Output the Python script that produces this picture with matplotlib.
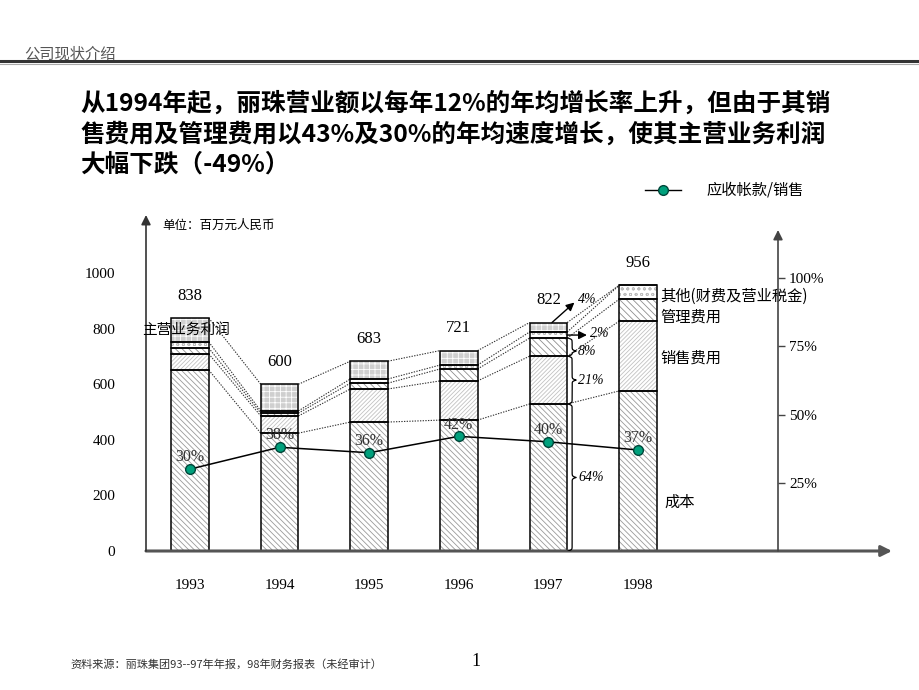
import numpy as np
import matplotlib
matplotlib.use('Agg')
import matplotlib.pyplot as plt
from matplotlib.lines import Line2D

plt.rcParams['font.family'] = ['Noto Sans CJK SC', 'DejaVu Sans']
plt.rcParams['hatch.linewidth'] = 0.6

# data (百万元人民币)
years = ['1993', '1994', '1995', '1996', '1997', '1998']
totals = [838, 600, 683, 721, 822, 956]
cost = [651, 424, 464, 471, 529, 576]
sales = [58, 62, 119, 141, 172, 251]
mgmt = [21, 10, 21, 43, 65, 79]
other = [22, 8, 15, 14, 22, 50]
profit = [86, 96, 64, 52, 34, 0]
ar_ratio = [30, 38, 36, 42, 40, 37]   # 应收帐款/销售 %
shares_1997 = ['64%', '21%', '8%', '2%', '4%']
right_ticks = [25, 50, 75, 100]
left_ticks = [0, 200, 400, 600, 800, 1000]

W, H = 920, 690
SERIF = 'Liberation Serif'


def fx(x):
    return x / W


def fy(y):
    return 1 - y / H


fig = plt.figure(figsize=(9.2, 6.9), dpi=100)

# header
fig.text(fx(24), fy(54), '公司现状介绍', fontsize=11, color='#555555', va='center', style='italic')
fig.add_artist(Line2D([0, 1], [fy(61), fy(61)], color='#333333', lw=2.2))
fig.add_artist(Line2D([0, 1], [fy(64), fy(64)], color='#aaaaaa', lw=0.8))

title = ['从1994年起，丽珠营业额以每年12%的年均增长率上升，但由于其销',
         '售费用及管理费用以43%及30%的年均速度增长，使其主营业务利润',
         '大幅下跌（-49%）']
for k, line in enumerate(title):
    fig.text(fx(80), fy(103 + 31 * k), line, fontsize=17.7, fontweight='bold',
             va='center', ha='left', color='black')

# main axes
ax = fig.add_axes([fx(146), 1 - 551 / H, (892 - 146) / W, (551 - 215) / H])
ax.set_xlim(-0.491, 7.835)
ax.set_ylim(0, 1209)
ax.patch.set_alpha(0)
for s in ax.spines.values():
    s.set_visible(False)

x = np.arange(len(years))
bw = 0.42
layers = [
    (cost, '#9a9a9a', '\\\\\\\\\\\\', 'white'),
    (sales, '#c2c2c2', '////////', 'white'),
    (mgmt, '#8e8e8e', '\\\\\\\\\\', 'white'),
    (other, '#bdbdbd', 'ooo', 'white'),
    (profit, 'white', '+++', '#cfcfcf'),
]
bottom = np.zeros(len(years))
levels = []
for vals, hcol, hatch, face in layers:
    vals = np.array(vals, dtype=float)
    ax.bar(x, vals, bottom=bottom, width=bw, color=face, edgecolor=hcol,
           hatch=hatch, lw=0, zorder=2)
    ax.bar(x, vals, bottom=bottom, width=bw, fill=False, edgecolor='black',
           lw=1.1, zorder=3)
    bottom = bottom + vals
    levels.append(bottom.copy())

# dotted connectors between neighbouring bars
for lev in levels:
    for i in range(len(years) - 1):
        ax.plot([x[i] + bw / 2, x[i + 1] - bw / 2], [lev[i], lev[i + 1]],
                ls=(0, (1.2, 1.2)), color='#333333', lw=0.8, zorder=1)

for i, t in enumerate(totals):
    ax.annotate(str(t), (x[i], t), xytext=(0, 16), textcoords='offset points',
                ha='center', va='center', fontsize=12, family=SERIF)

# axes lines with arrows
ax.annotate('', xy=(1, 0), xytext=(0, 0), xycoords='axes fraction',
            arrowprops=dict(arrowstyle='-|>', color='#555555', lw=2.2,
                            mutation_scale=16, shrinkA=0, shrinkB=0))
ax.annotate('', xy=(0, 1), xytext=(0, 0), xycoords='axes fraction',
            arrowprops=dict(arrowstyle='-|>', color='#333333', lw=1.2,
                            mutation_scale=14, shrinkA=0, shrinkB=0))

ax.set_yticks(left_ticks)
ax.set_yticklabels([str(v) for v in left_ticks], family=SERIF, fontsize=11)
ax.tick_params(axis='y', length=0, pad=22)
ax.set_xticks(x)
ax.set_xticklabels(years, family=SERIF, fontsize=11)
ax.tick_params(axis='x', length=0, pad=20)

ax.text(-0.536, 795, '主营业务利润', fontsize=10.5, va='center', ha='left', zorder=5)

# labels next to 1998
xl = x[5] + bw / 2 + 0.04
ax.text(xl, 915, '其他(财费及营业税金)', fontsize=11, va='center', ha='left')
ax.text(xl, 840, '管理费用', fontsize=11, va='center', ha='left')
ax.text(xl, 695, '销售费用', fontsize=11, va='center', ha='left')
ax.text(xl + 0.04, 175, '成本', fontsize=11, va='center', ha='left')


def brace(ax, x0, y0, y1, w, tip=0.5):
    n = 201
    s = np.linspace(y0, y1, n)
    m = int(round((n - 1) * tip))
    beta = 0.45
    lo = s[:m + 1]
    hi = s[m:]
    b1 = 1 / (1 + np.exp(-beta * (lo - lo[0]))) + 1 / (1 + np.exp(-beta * (lo - lo[-1])))
    b2 = 1 / (1 + np.exp(beta * (hi - hi[-1]))) + 1 / (1 + np.exp(beta * (hi - hi[0])))
    b = np.concatenate([b1, b2[1:]])
    ax.plot(x0 + (b - 0.5) * w, s, color='black', lw=0.9, zorder=4)


# 1997 share annotations
xr = x[4] + bw / 2
segs97 = [(0, levels[0][4]), (levels[0][4], levels[1][4]), (levels[1][4], levels[2][4])]
tips = [0.5, 0.5, 0.28]
for (y0, y1), lab, tp in zip(segs97, shares_1997[:3], tips):
    brace(ax, xr + 0.01, y0, y1, 0.09, tp)
    ax.text(xr + 0.12, y0 + (y1 - y0) * tp, lab, fontsize=10, style='italic',
            family=SERIF, va='center', ha='left')
ymid = (levels[2][4] + levels[3][4]) / 2
ax.annotate('', xy=(xr + 0.22, ymid), xytext=(xr, ymid),
            arrowprops=dict(arrowstyle='-|>', color='black', lw=1,
                            mutation_scale=12, shrinkA=0, shrinkB=0))
ax.text(xr + 0.26, ymid + 4, shares_1997[3], fontsize=10, style='italic',
        family=SERIF, va='center', ha='left')
ax.annotate('', xy=(xr + 0.08, totals[4] + 72), xytext=(x[4] + 0.04, totals[4]),
            arrowprops=dict(arrowstyle='-|>', color='black', lw=1,
                            mutation_scale=12, shrinkA=0, shrinkB=0))
ax.text(xr + 0.12, totals[4] + 82, shares_1997[4], fontsize=10, style='italic',
        family=SERIF, va='center', ha='left')

# right percentage axis
ax2 = fig.add_axes([fx(146), 1 - 551 / H, (778 - 146) / W, (551 - 230) / H])
ax2.set_xlim(-0.491, 6.563)
ax2.set_ylim(0, 117.6)
ax2.patch.set_alpha(0)
for k in ['left', 'top', 'bottom', 'right']:
    ax2.spines[k].set_visible(False)
ax2.annotate('', xy=(1, 1), xytext=(1, 0), xycoords='axes fraction',
             arrowprops=dict(arrowstyle='-|>', color='#444444', lw=1.2,
                             mutation_scale=14, shrinkA=0, shrinkB=0))
ax2.set_xticks([])
ax2.yaxis.tick_right()
ax2.set_yticks(right_ticks)
ax2.set_yticklabels([f'{v}%' for v in right_ticks], family=SERIF, fontsize=11)
ax2.tick_params(axis='y', direction='out', length=5, width=1, color='#444444', pad=3)

ax2.plot(x, ar_ratio, color='black', lw=1.1, marker='o', markersize=7,
         markerfacecolor='#00a07c', markeredgecolor='#00473a', markeredgewidth=1,
         zorder=6)
for i, v in enumerate(ar_ratio):
    ax2.annotate(f'{v}%', (x[i], v), xytext=(0, 8.5), textcoords='offset points',
                 ha='center', va='center', fontsize=11.5, family=SERIF, color='#333333')

# legend and unit label
fig.add_artist(Line2D([fx(645), fx(681)], [fy(190), fy(190)], color='black', lw=1))
fig.add_artist(Line2D([fx(663)], [fy(190)], marker='o', markersize=7,
                      markerfacecolor='#00a07c', markeredgecolor='#00473a', lw=0))
fig.text(fx(706), fy(190), '应收帐款/销售', fontsize=11, va='center', ha='left')
fig.text(fx(162), fy(225), '单位：百万元人民币', fontsize=9, va='center', ha='left')

# footer
fig.text(fx(70), fy(664), '资料来源：丽珠集团93--97年年报，98年财务报表（未经审计）',
         fontsize=8, va='center', ha='left', style='italic', color='#333333')
fig.text(fx(476), fy(662), '1', fontsize=13, va='center', ha='center', family=SERIF)

fig.savefig('out.png', dpi=100)
